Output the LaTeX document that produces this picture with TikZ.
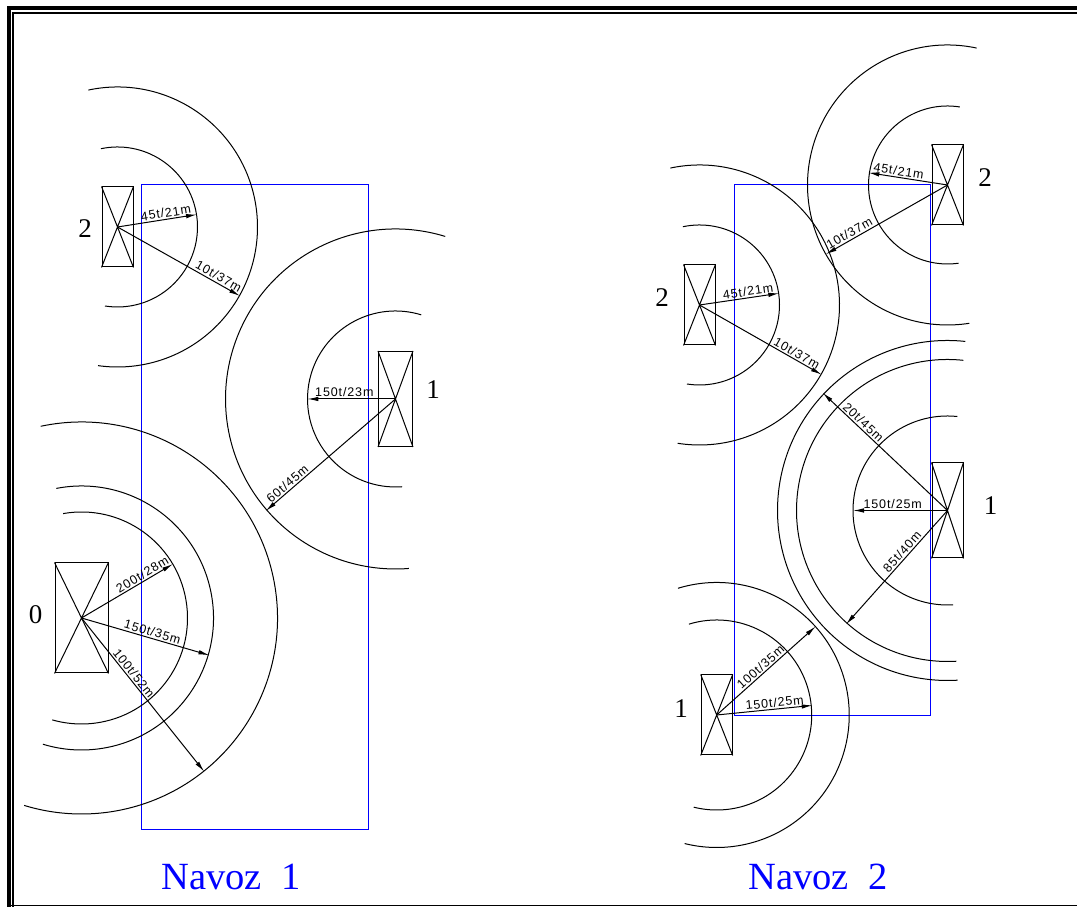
\documentclass[tikz,border=0pt]{standalone}
\usepackage{fontspec}
\setmainfont{Liberation Serif}
\newfontfamily\cadfont[LetterSpace=7]{Liberation Sans}
\usepackage{tikz}
\usetikzlibrary{
	arrows.meta % for the jib arrows
	}
\tikzset{
	crane/.style={draw,inner sep=0pt,line width=1pt},
	reach/.style={black,line width=1pt},
	jib/.style={black,line width=1pt,-{Latex[length=11pt,width=4.5pt]}},
	load/.style={sloped,above,inner sep=1.5pt,font=\cadfont\fontsize{12.5}{12.5}\selectfont},
	site/.style={blue,line width=1pt},
	number/.style={inner sep=0pt,font=\fontsize{27}{27}\selectfont},
	title/.style={blue,inner sep=0pt,anchor=base,font=\fontsize{38.5}{38.5}\selectfont}
}

\begin{document}
\begin{tikzpicture}[x=1pt,y=1pt]
            \useasboundingbox (0,0) rectangle (1077,907);

            % Sheet frame
            \draw[line width=3.7pt] (9.2,0) -- (9.2,899) -- (1077,899);
            \draw[line width=1.3pt] (13,0) -- (13,894) -- (1077,894);
            \draw[line width=1pt] (9,1) -- (1077,1);


            % Coordinates, Navoz 1
            \coordinate(TipA) at (173,343);
            \coordinate(TipB) at (209.5,251.7);
            \coordinate(TipC) at (204.3,135.3);
            \coordinate(TipD) at (307.3,508);
            \coordinate(TipE) at (265.7,396);
            \coordinate(TipF) at (197,692.5);
            \coordinate(TipG) at (240,611);

            % Coordinates, Navoz 2
            \coordinate(TipH) at (868.3,734.3);
            \coordinate(TipI) at (825.7,652.7);
            \coordinate(TipJ) at (779.3,613.7);
            \coordinate(TipK) at (821.7,532.3);
            \coordinate(TipL) at (853,396.5);
            \coordinate(TipM) at (822.7,514.2);
            \coordinate(TipN) at (846,282.6);
            \coordinate(TipO) at (812.7,201.6);
            \coordinate(TipP) at (815.7,280.6);


            % Sites
            \draw[site] (141.7,722) rectangle (368,77);
            \draw[site] (734,722) rectangle (930.5,191);


            % Cranes, Navoz 1
            \node[crane,minimum width=53,minimum height=110] (CraneZero) at (81.5,289) {};
            \node[crane,minimum width=34,minimum height=95] (CraneOne) at (395.5,508) {};
            \node[crane,minimum width=31,minimum height=80] (CraneTwo) at (117.5,680) {};

            % Cranes, Navoz 2
            \node[crane,minimum width=31,minimum height=80] (CraneTwoR) at (947.5,722) {};
            \node[crane,minimum width=31,minimum height=80] (CraneTwoL) at (699.5,602) {};
            \node[crane,minimum width=31,minimum height=95] (CraneOneR) at (947.5,396.5) {};
            \node[crane,minimum width=31,minimum height=80] (CraneOneL) at (716.7,192) {};

            % Crosses
            \draw[reach] (CraneZero.north west) -- (CraneZero.south east) (CraneZero.north east) -- (CraneZero.south west);
            \draw[reach] (CraneOne.north west) -- (CraneOne.south east) (CraneOne.north east) -- (CraneOne.south west);
            \draw[reach] (CraneTwo.north west) -- (CraneTwo.south east) (CraneTwo.north east) -- (CraneTwo.south west);
            \draw[reach] (CraneTwoR.north west) -- (CraneTwoR.south east) (CraneTwoR.north east) -- (CraneTwoR.south west);
            \draw[reach] (CraneTwoL.north west) -- (CraneTwoL.south east) (CraneTwoL.north east) -- (CraneTwoL.south west);
            \draw[reach] (CraneOneR.north west) -- (CraneOneR.south east) (CraneOneR.north east) -- (CraneOneR.south west);
            \draw[reach] (CraneOneL.north west) -- (CraneOneL.south east) (CraneOneL.north east) -- (CraneOneL.south west);


            % Arcs, Navoz 1
            \draw[reach] (CraneZero.center) ++(100:106) arc[start angle=100, end angle=-106, radius=106];
            \draw[reach] (CraneZero.center) ++(101:132) arc[start angle=101, end angle=-107, radius=132];
            \draw[reach] (CraneZero.center) ++(102:196) arc[start angle=102, end angle=-107, radius=196];
            \draw[reach] (CraneOne.center) ++(73:88) arc[start angle=73, end angle=274.3, radius=88];
            \draw[reach] (CraneOne.center) ++(73:170) arc[start angle=73, end angle=274.5, radius=170];
            \draw[reach] (CraneTwo.center) ++(102:80) arc[start angle=102, end angle=-99, radius=80];
            \draw[reach] (CraneTwo.center) ++(102:140) arc[start angle=102, end angle=-98, radius=140];

            % Arcs, Navoz 2
            \draw[reach] (CraneTwoR.center) ++(81:79) arc[start angle=81, end angle=278, radius=79];
            \draw[reach] (CraneTwoR.center) ++(78:140) arc[start angle=78, end angle=279, radius=140];
            \draw[reach] (CraneTwoL.center) ++(102:80) arc[start angle=102, end angle=-99, radius=80];
            \draw[reach] (CraneTwoL.center) ++(102:140) arc[start angle=102, end angle=-99, radius=140];
            \draw[reach] (CraneOneR.center) ++(84:94.5) arc[start angle=84, end angle=273.4, radius=94.5];
            \draw[reach] (CraneOneR.center) ++(84:151) arc[start angle=84, end angle=273.4, radius=151];
            \draw[reach] (CraneOneR.center) ++(84:170) arc[start angle=84, end angle=273.4, radius=170];
            \draw[reach] (CraneOneL.center) ++(107:95) arc[start angle=107, end angle=-104, radius=95];
            \draw[reach] (CraneOneL.center) ++(107:132.5) arc[start angle=107, end angle=-104, radius=132.5];


            % Jibs, Navoz 1
            \draw[jib] (CraneZero.center) -- (TipA) node[load,pos=0.70]{200t/28m};
            \draw[jib] (CraneZero.center) -- (TipB) node[load,pos=0.54]{150t/35m};
            \draw[jib] (CraneZero.center) -- (TipC) node[load,pos=0.385]{100t/52m};
            \draw[jib] (CraneOne.center) -- (TipD) node[load,pos=0.58]{150t/23m};
            \draw[jib] (CraneOne.center) -- (TipE) node[load,pos=0.80]{60t/45m};
            \draw[jib] (CraneTwo.center) -- (TipF) node[load,pos=0.62]{45t/21m};
            \draw[jib] (CraneTwo.center) -- (TipG) node[load,pos=0.80]{10t/37m};

            % Jibs, Navoz 2
            \draw[jib] (CraneTwoR.center) -- (TipH) node[load,pos=0.63]{45t/21m};
            \draw[jib] (CraneTwoR.center) -- (TipI) node[load,pos=0.78]{10t/37m};
            \draw[jib] (CraneTwoL.center) -- (TipJ) node[load,pos=0.62]{45t/21m};
            \draw[jib] (CraneTwoL.center) -- (TipK) node[load,pos=0.77]{10t/37m};
            \draw[jib] (CraneOneR.center) -- (TipL) node[load,pos=0.58]{150t/25m};
            \draw[jib] (CraneOneR.center) -- (TipM) node[load,pos=0.71]{20t/45m};
            \draw[jib] (CraneOneR.center) -- (TipN) node[load,pos=0.40]{85t/40m};
            \draw[jib] (CraneOneL.center) -- (TipO) node[load,pos=0.61]{150t/25m};
            \draw[jib] (CraneOneL.center) -- (TipP) node[load,pos=0.486]{100t/35m};


            % Numbers
            \node[number] (NumZero) at (35.5,292) {0};
            \node[number] (NumOne) at (433,517) {1};
            \node[number] (NumTwo) at (85,678) {2};
            \node[number] (NumTwoR) at (985,729) {2};
            \node[number] (NumTwoL) at (662,609) {2};
            \node[number] (NumOneR) at (990.7,401) {1};
            \node[number] (NumOneL) at (681,198) {1};


            % Titles
            \node[title] (TitleOne) at (231,17) {Navoz\ \ 1};
            \node[title] (TitleTwo) at (818,17) {Navoz\ \ 2};

\end{tikzpicture}
\end{document}
